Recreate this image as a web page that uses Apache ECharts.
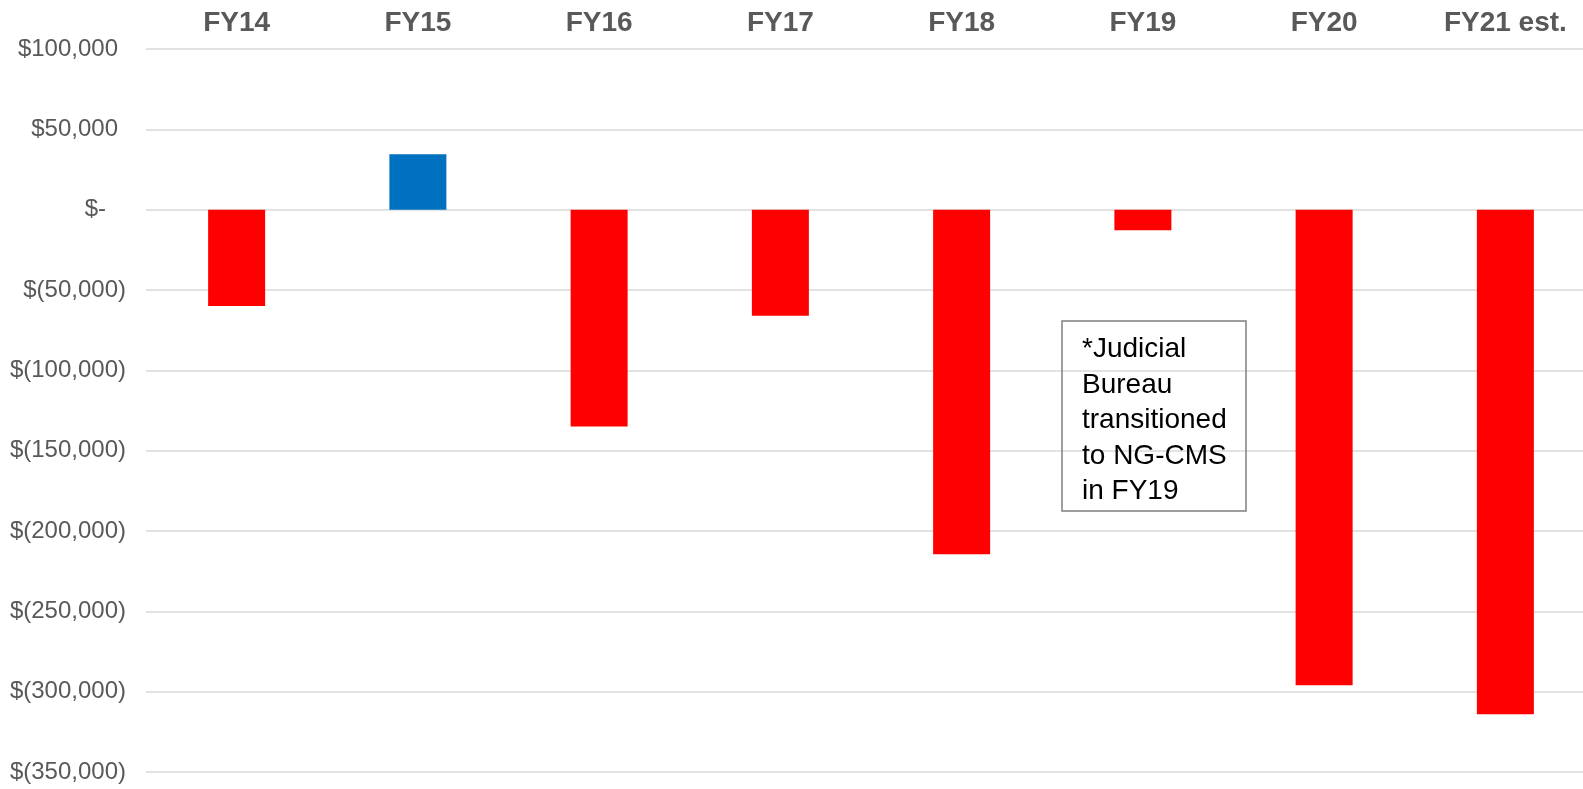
<!DOCTYPE html>
<html>
<head>
<meta charset="utf-8">
<script src="https://cdn.jsdelivr.net/npm/echarts@6/dist/echarts.min.js"></script>
<style>
html,body{margin:0;padding:0;background:#fff;}
#chart{width:1583px;height:789px;}
</style>
</head>
<body>
<div id="chart"></div>
<script>
const categories = ['FY14', 'FY15', 'FY16', 'FY17', 'FY18', 'FY19', 'FY20', 'FY21 est.'];
const values = [-60000, 34500, -135000, -66000, -214500, -12800, -296000, -314000];
const noteLines = ['*Judicial', 'Bureau', 'transitioned', 'to NG-CMS', 'in FY19'];

function fmt(v) {
  if (v === 0) return '{z|$-}';
  const s = Math.abs(v).toLocaleString('en-US');
  return v < 0 ? '{n|$(' + s + ')}' : '{p|$' + s + '}';
}

const chart = echarts.init(document.getElementById('chart'), null, {renderer: 'canvas'});
const labelFont = {fontFamily: 'Liberation Sans, Arial, sans-serif', fontSize: 24, color: '#595959'};
chart.setOption({
  animation: false,
  backgroundColor: '#ffffff',
  grid: {left: 146, top: 49, width: 1450, bottom: 17, containLabel: false, outerBoundsMode: 'none'},
  xAxis: {
    type: 'category',
    data: categories,
    position: 'top',
    axisLine: {show: false},
    axisTick: {show: false},
    axisLabel: {
      interval: 0,
      margin: 12,
      fontFamily: 'Liberation Sans, Arial, sans-serif',
      fontSize: 28,
      fontWeight: 'bold',
      color: '#595959'
    },
    splitLine: {show: false}
  },
  yAxis: {
    type: 'value',
    min: -350000,
    max: 100000,
    interval: 50000,
    axisLine: {show: false},
    axisTick: {show: false},
    axisLabel: {
      margin: 20,
      formatter: fmt,
      rich: {
        p: Object.assign({}, labelFont, {padding: [0, 8, 0, 0]}),
        z: Object.assign({}, labelFont, {padding: [0, 20, 0, 0]}),
        n: Object.assign({}, labelFont)
      }
    },
    splitLine: {show: true, lineStyle: {color: '#d9d9d9', width: 1.5}}
  },
  series: [{
    type: 'bar',
    data: values,
    barWidth: 57,
    itemStyle: {
      color: function (p) { return p.value >= 0 ? '#0070c0' : '#ff0000'; }
    }
  }],
  graphic: [
    {
      type: 'rect',
      shape: {x: 1062, y: 321, width: 184, height: 190},
      style: {fill: 'none', stroke: '#7f7f7f', lineWidth: 1.5},
      z: 100
    },
    {
      type: 'text',
      x: 1082,
      y: 332,
      style: {
        text: noteLines.join('\n'),
        font: '28px "Liberation Sans", Arial, sans-serif',
        fill: '#000000',
        lineHeight: 35.5,
        verticalAlign: 'top',
        align: 'left'
      },
      z: 101
    }
  ]
});
</script>
</body>
</html>
